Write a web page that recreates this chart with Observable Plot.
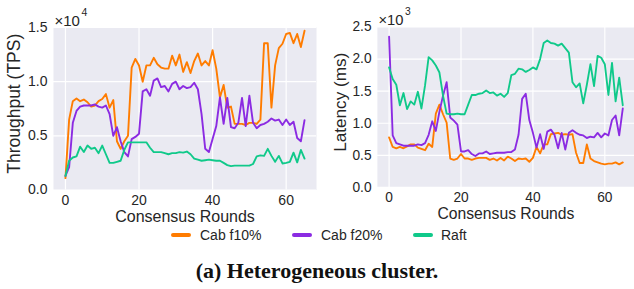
<!DOCTYPE html>
<html><head><meta charset="utf-8">
<script src="https://cdn.jsdelivr.net/npm/d3@7"></script>
<script src="https://cdn.jsdelivr.net/npm/@observablehq/plot@0.6"></script>
<style>
html,body{margin:0;padding:0;background:#fff;overflow:hidden;width:634px;height:289px;}
#wrap{position:relative;width:634px;height:289px;overflow:hidden;}
#left,#right{position:absolute;top:0;}
#left{left:0px;}
#right{left:320px;}
.item{position:absolute;top:226px;height:18px;font-family:"Liberation Sans",Arial,sans-serif;font-size:14px;color:#262626;line-height:18px;white-space:nowrap;}
.sw{position:absolute;top:7px;width:20px;height:4px;border-radius:2px;}
.lab{position:absolute;top:0;}
#caption{position:absolute;left:0;width:634px;top:258px;text-align:center;font-family:"Liberation Serif","Times New Roman",serif;font-weight:bold;font-size:22px;line-height:26px;color:#111;}
</style></head><body>
<div id="wrap">
<div id="left"></div>
<div id="right"></div>
<div id="legend"></div>
<div id="caption">(a) Heterogeneous cluster.</div>
</div>
<script>
const rounds = d3.range(66);
const seriesNames = ["Cab f10%", "Cab f20%", "Raft"];
const seriesColors = ["#ff7c00", "#8b2be2", "#10c98a"];
const xTicks = [0, 20, 40, 60];
const tpsTicks = [0, 5000, 10000, 15000];
const latTicks = [0, 500, 1000, 1500, 2000, 2500];

// Throughput (TPS)
const tpsCab10 = [1100,6500,8200,8450,8200,8350,8100,7700,7800,8200,8400,8850,7600,8300,4500,3800,4500,5000,11300,12100,
  11500,10000,11500,11500,12200,11600,11300,11200,11200,12400,11500,12500,10900,11800,10800,11900,12600,11500,11900,11500,
  12900,11200,8550,9700,7600,7700,6100,6100,6100,6000,6200,6200,6100,6500,13550,13550,7600,11500,13100,13500,
  14400,14500,13550,14400,13200,14700];
const tpsCab20 = [1300,2100,6200,7300,7700,7800,7800,7800,7900,7700,7600,7800,7000,5000,5800,4500,3500,3100,4700,4900,
  5200,9100,9300,8700,10100,10300,9500,9600,9100,9800,10000,9300,9600,9400,9500,9900,9300,7000,3800,3500,
  4700,5900,8550,6100,8500,5800,5700,6200,8500,5900,8700,6200,5700,6000,6100,6300,6600,6400,6500,6000,
  6500,6000,6300,4800,4500,6450];
const tpsRaft = [1300,2700,3000,3100,4000,3500,4100,3800,3900,3400,4100,3300,2500,2500,2600,2700,3700,4400,4400,4400,
  4400,4400,4400,3900,3500,3500,3500,3400,3300,3400,3400,3500,3450,3550,3300,2900,2800,2700,2750,2800,
  2750,2700,2700,2500,2300,2200,2250,2250,2250,2250,2250,2400,3100,3200,3150,3800,3150,2600,3150,2450,
  2500,2600,3450,2550,3700,2900];

// Latency (ms)
const latCab10 = [780,630,610,630,610,640,670,670,620,600,580,680,630,1150,1290,1140,1010,450,430,450,
  520,450,450,430,450,460,460,460,430,450,420,460,420,480,450,410,450,440,450,400,
  460,630,530,670,670,830,840,850,820,830,820,830,540,380,380,670,450,410,390,370,
  360,370,370,390,360,390];
const latCab20 = [2350,810,690,670,650,650,650,650,670,660,690,820,1030,880,1180,1430,1640,1090,1040,980,
  560,560,580,520,490,530,530,560,520,530,540,540,540,550,550,590,820,1380,1460,1050,
  850,620,830,600,870,900,820,610,850,590,850,890,850,820,810,770,790,780,850,780,
  840,810,1050,1120,810,1230];
const latRaft = [1870,1690,1600,1280,1470,1220,1340,1290,1490,1230,1590,2030,1980,1900,1790,1430,1150,1140,1140,1150,
  1140,1140,1290,1440,1440,1460,1470,1510,1470,1480,1430,1460,1410,1470,1750,1770,1850,1840,1800,1830,
  1870,1840,2000,2250,2290,2250,2240,2210,2240,2170,2100,1640,1560,1620,1310,1600,1920,1580,2050,2020,
  1920,1440,1940,1340,1710,1280];

function toRows(seriesArrays) {
  const rows = [];
  seriesArrays.forEach((arr, k) => arr.forEach((v, i) => rows.push({round: rounds[i], value: v, series: seriesNames[k]})));
  return rows;
}

function panel(o) {
  const H = 226;
  return Plot.plot({
    width: o.width, height: H,
    marginLeft: o.ml, marginRight: o.mr, marginTop: 27, marginBottom: H - o.bottom,
    style: {fontFamily: "'Liberation Sans', Arial, sans-serif", fontSize: "14px", color: "#262626", background: "transparent", overflow: "visible"},
    x: {domain: [-3.25, 68.25]},
    y: {domain: o.ydomain},
    color: {domain: seriesNames, range: seriesColors},
    marks: [
      Plot.frame({fill: "#eaeaf2", stroke: null}),
      Plot.gridX(xTicks, {stroke: "white", strokeOpacity: 1, strokeWidth: 1.2}),
      Plot.gridY(o.yticks, {stroke: "white", strokeOpacity: 1, strokeWidth: 1.2}),
      Plot.axisX(xTicks, {tickSize: 0, tickPadding: 5, label: null, fontSize: 14}),
      Plot.axisY(o.yticks, {tickSize: 0, tickPadding: 6, label: null, fontSize: 14, tickFormat: o.fmt}),
      Plot.lineY(toRows(o.series), {x: "round", y: "value", z: "series", stroke: "series", strokeWidth: 1.9}),
      Plot.text([o.ylabel], {frameAnchor: "left", dx: o.ylabDx, dy: -5, rotate: -90, textAnchor: "middle", lineAnchor: "middle", fontSize: 17.5}),
      Plot.text(["Consensus Rounds"], {frameAnchor: "bottom", dy: 27, textAnchor: "middle", lineAnchor: "middle", fontSize: 16}),
      Plot.text(["×10"], {frameAnchor: "top-left", textAnchor: "start", lineAnchor: "bottom", dx: 1, dy: -2, fontSize: 15}),
      Plot.text([o.exp], {frameAnchor: "top-left", textAnchor: "start", lineAnchor: "bottom", dx: 28, dy: -12, fontSize: 10.5})
    ]
  });
}

document.getElementById("left").append(panel({
  width: 320, ml: 53, mr: 4, bottom: 189.5, ylabDx: -39,
  ydomain: [0, 15000], yticks: tpsTicks, fmt: d => (d / 1e4).toFixed(1),
  series: [tpsCab10, tpsCab20, tpsRaft], ylabel: "Throughput (TPS)", exp: "4"
}));
document.getElementById("right").append(panel({
  width: 320, ml: 58, mr: 0, bottom: 190.5, ylabDx: -38,
  ydomain: [0, 2500], yticks: latTicks, fmt: d => (d / 1e3).toFixed(1),
  series: [latCab10, latCab20, latRaft], ylabel: "Latency (ms)", exp: "3"
}));

// Legend
const legendX = [171, 292, 413];
const leg = document.getElementById("legend");
seriesNames.forEach((n, k) => {
  const it = document.createElement("div");
  it.className = "item";
  it.style.left = legendX[k] + "px";
  const sw = document.createElement("div");
  sw.className = "sw"; sw.style.left = "0px"; sw.style.background = seriesColors[k];
  const lb = document.createElement("span");
  lb.className = "lab"; lb.style.left = (k === 2 ? 28 : 29) + "px"; lb.textContent = n;
  it.append(sw, lb);
  leg.append(it);
});
</script>
</body></html>
